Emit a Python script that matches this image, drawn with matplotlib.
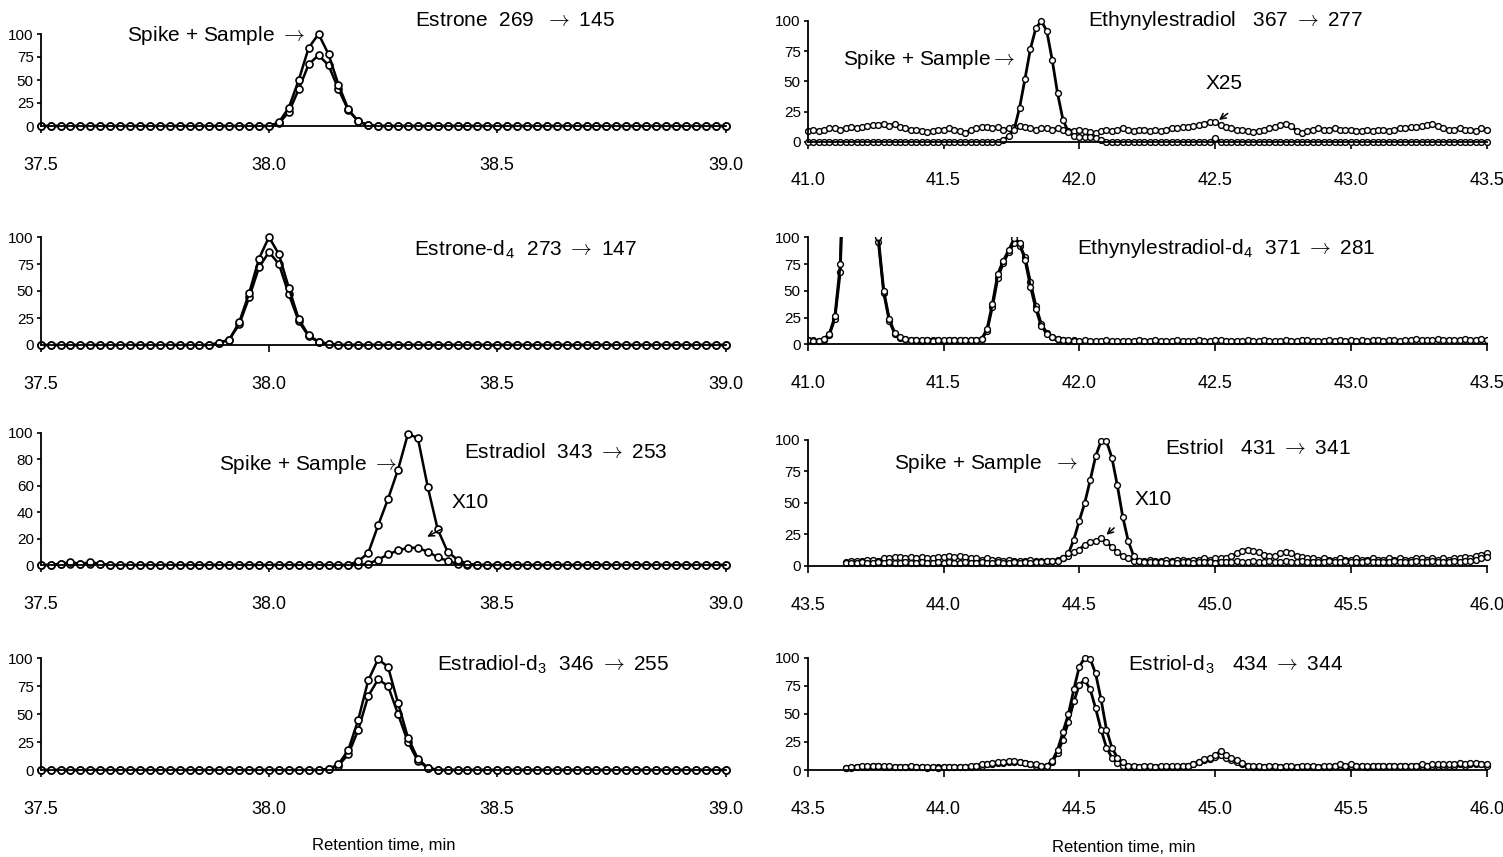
import numpy as np
import matplotlib.pyplot as plt

plt.rcParams['font.family'] = ['Liberation Sans', 'DejaVu Sans']
plt.rcParams['mathtext.fontset'] = 'cm'
NARROW = ['Liberation Sans Narrow', 'Liberation Sans', 'DejaVu Sans']
ARROW = r'$\rightarrow$'

# ---- left column: 37.5-39.0 min, one scan every ~1.3 s ----
t_left = np.linspace(37.5, 39.0, 70)

estrone_spike = [0, 0, 0, 0, 0, 0, 0, 0, 0, 0,
                 0, 0, 0, 0, 0, 0, 0, 0, 0, 0,
                 0, 0, 0, 0, 4, 20, 50, 85, 100, 78,
                 45, 18, 5, 1, 0, 0, 0, 0, 0, 0,
                 0, 0, 0, 0, 0, 0, 0, 0, 0, 0,
                 0, 0, 0, 0, 0, 0, 0, 0, 0, 0,
                 0, 0, 0, 0, 0, 0, 0, 0, 0, 0]
estrone_sample = [0, 0, 0, 0, 0, 0, 0, 0, 0, 0,
                  0, 0, 0, 0, 0, 0, 0, 0, 0, 0,
                  0, 0, 0, 0, 3, 15, 40, 67, 77, 66,
                  40, 17, 5, 1, 0, 0, 0, 0, 0, 0,
                  0, 0, 0, 0, 0, 0, 0, 0, 0, 0,
                  0, 0, 0, 0, 0, 0, 0, 0, 0, 0,
                  0, 0, 0, 0, 0, 0, 0, 0, 0, 0]

estrone_d4_a = [0, 0, 0, 0, 0, 0, 0, 0, 0, 0,
                0, 0, 0, 0, 0, 0, 0, 0, 2, 5,
                21, 48, 80, 100, 84, 53, 24, 9, 3, 1,
                0, 0, 0, 0, 0, 0, 0, 0, 0, 0,
                0, 0, 0, 0, 0, 0, 0, 0, 0, 0,
                0, 0, 0, 0, 0, 0, 0, 0, 0, 0,
                0, 0, 0, 0, 0, 0, 0, 0, 0, 0]
estrone_d4_b = [0, 0, 0, 0, 0, 0, 0, 0, 0, 0,
                0, 0, 0, 0, 0, 0, 0, 0, 2, 5,
                19, 44, 72, 86, 75, 47, 22, 8, 3, 1,
                0, 0, 0, 0, 0, 0, 0, 0, 0, 0,
                0, 0, 0, 0, 0, 0, 0, 0, 0, 0,
                0, 0, 0, 0, 0, 0, 0, 0, 0, 0,
                0, 0, 0, 0, 0, 0, 0, 0, 0, 0]

estradiol_spike = [0, 0, 1, 2, 1, 2, 1, 0, 0, 0,
                   0, 0, 0, 0, 0, 0, 0, 0, 0, 0,
                   0, 0, 0, 0, 0, 0, 0, 0, 0, 0,
                   0, 0, 3, 9, 30, 50, 72, 99, 96, 59,
                   27, 10, 4, 1, 0, 0, 0, 0, 0, 0,
                   0, 0, 0, 0, 0, 0, 0, 0, 0, 0,
                   0, 0, 0, 0, 0, 0, 0, 0, 0, 0]
estradiol_x10 = [0, 0, 1, 1, 1, 1, 1, 0, 0, 0,
                 0, 0, 0, 0, 0, 0, 0, 0, 0, 0,
                 0, 0, 0, 0, 0, 0, 0, 0, 0, 0,
                 0, 0, 0, 1, 4, 8, 11, 13, 13, 10,
                 6, 3, 1, 0, 0, 0, 0, 0, 0, 0,
                 0, 0, 0, 0, 0, 0, 0, 0, 0, 0,
                 0, 0, 0, 0, 0, 0, 0, 0, 0, 0]

estradiol_d3_a = [0, 0, 0, 0, 0, 0, 0, 0, 0, 0,
                  0, 0, 0, 0, 0, 0, 0, 0, 0, 0,
                  0, 0, 0, 0, 0, 0, 0, 0, 0, 1,
                  5, 18, 45, 80, 99, 92, 60, 29, 10, 2,
                  0, 0, 0, 0, 0, 0, 0, 0, 0, 0,
                  0, 0, 0, 0, 0, 0, 0, 0, 0, 0,
                  0, 0, 0, 0, 0, 0, 0, 0, 0, 0]
estradiol_d3_b = [0, 0, 0, 0, 0, 0, 0, 0, 0, 0,
                  0, 0, 0, 0, 0, 0, 0, 0, 0, 0,
                  0, 0, 0, 0, 0, 0, 0, 0, 0, 1,
                  4, 14, 36, 66, 81, 75, 50, 25, 8, 2,
                  0, 0, 0, 0, 0, 0, 0, 0, 0, 0,
                  0, 0, 0, 0, 0, 0, 0, 0, 0, 0,
                  0, 0, 0, 0, 0, 0, 0, 0, 0, 0]

# ---- right column, top two: 41.0-43.5 min, 0.02 min per scan ----
t_ee = np.linspace(41.0, 43.5, 126)

ee_x25 = [9, 10, 9, 10, 11, 11, 10, 11, 12, 11,
          12, 13, 14, 14, 15, 13, 15, 12, 11, 10,
          10, 9, 8, 9, 10, 10, 11, 10, 9, 7,
          10, 11, 12, 12, 11, 12, 10, 11, 12, 13,
          12, 11, 10, 11, 11, 10, 11, 10, 9, 9,
          10, 9, 8, 7, 9, 10, 9, 10, 11, 10,
          9, 10, 10, 9, 10, 9, 10, 11, 11, 12,
          12, 13, 14, 15, 16, 16, 14, 12, 11, 10,
          10, 9, 8, 9, 10, 11, 12, 14, 15, 13,
          9, 7, 9, 10, 11, 10, 10, 11, 10, 10,
          10, 9, 9, 10, 9, 10, 10, 9, 10, 11,
          11, 12, 12, 13, 14, 15, 13, 11, 10, 10,
          11, 10, 10, 9, 11, 10]
ee_spike = [0, 0, 0, 0, 0, 0, 0, 0, 0, 0,
            0, 0, 0, 0, 0, 0, 0, 0, 0, 0,
            0, 0, 0, 0, 0, 0, 0, 0, 0, 0,
            0, 0, 0, 0, 0, 0, 1, 5, 10, 28,
            52, 77, 94, 100, 92, 68, 40, 18, 8, 5,
            4, 4, 4, 3, 1, 0, 0, 0, 0, 0,
            0, 0, 0, 0, 0, 0, 0, 0, 0, 0,
            0, 0, 0, 0, 0, 3, 0, 0, 0, 0,
            0, 0, 0, 0, 0, 0, 0, 0, 0, 0,
            0, 0, 0, 0, 0, 0, 0, 0, 0, 0,
            0, 0, 0, 0, 0, 0, 0, 0, 0, 0,
            0, 0, 0, 0, 0, 0, 0, 0, 0, 0,
            0, 0, 0, 0, 0, 0]

ee_d4_a = [4, 3, 3, 5, 10, 26, 75, 250, 300, 300,
           300, 300, 250, 100, 50, 24, 11, 7, 5, 4,
           4, 4, 4, 3, 4, 4, 4, 4, 4, 4,
           4, 4, 5, 14, 38, 66, 78, 88, 99, 95,
           79, 54, 33, 17, 10, 7, 5, 4, 4, 3,
           3, 4, 3, 3, 3, 4, 3, 3, 3, 3,
           3, 4, 3, 3, 4, 3, 3, 3, 4, 3,
           3, 3, 4, 3, 3, 4, 4, 3, 3, 3,
           3, 4, 3, 3, 4, 3, 3, 3, 4, 3,
           3, 4, 4, 3, 3, 3, 4, 3, 4, 3,
           4, 3, 4, 3, 4, 4, 3, 4, 4, 3,
           4, 4, 5, 4, 4, 4, 5, 4, 4, 4,
           4, 5, 4, 4, 5, 4]
ee_d4_b = [4, 4, 3, 4, 9, 24, 68, 240, 300, 300,
           300, 290, 230, 96, 48, 22, 10, 6, 5, 4,
           4, 3, 4, 4, 4, 3, 4, 4, 4, 4,
           4, 4, 5, 12, 35, 62, 76, 86, 95, 92,
           82, 58, 36, 19, 11, 7, 5, 4, 3, 4]

# ---- right column, bottom two: 43.64-46.0 min ----
t_e3 = np.linspace(43.64, 46.0, 119)

estriol_spike = [2, 2, 2, 3, 2, 2, 3, 2, 3, 2,
                 2, 3, 2, 2, 3, 2, 2, 3, 2, 3,
                 2, 2, 3, 2, 2, 3, 2, 2, 3, 2,
                 2, 3, 2, 3, 2, 3, 3, 4, 4, 4,
                 6, 10, 21, 36, 50, 68, 87, 99, 99, 86,
                 64, 39, 20, 8, 4, 3, 3, 3, 3, 2,
                 3, 2, 3, 3, 2, 3, 3, 3, 2, 3,
                 3, 3, 4, 3, 3, 4, 3, 3, 4, 3,
                 3, 4, 3, 3, 4, 3, 3, 3, 3, 4,
                 3, 3, 4, 3, 3, 3, 4, 3, 3, 3,
                 3, 4, 3, 3, 3, 4, 3, 3, 4, 3,
                 3, 3, 4, 3, 4, 4, 5, 6, 7]
estriol_x10 = [3, 4, 4, 4, 5, 5, 4, 6, 6, 7,
               7, 6, 7, 6, 7, 6, 6, 7, 7, 8,
               7, 8, 7, 6, 6, 5, 6, 5, 5, 4,
               5, 4, 4, 4, 5, 4, 4, 4, 4, 5,
               6, 8, 11, 13, 17, 19, 20, 22, 19, 15,
               11, 8, 6, 4, 4, 4, 5, 4, 4, 5,
               4, 5, 5, 4, 5, 5, 6, 5, 6, 6,
               6, 8, 10, 12, 13, 12, 11, 9, 8, 8,
               10, 11, 10, 8, 7, 6, 6, 5, 6, 5,
               5, 6, 5, 5, 6, 5, 5, 6, 5, 5,
               6, 5, 6, 5, 5, 6, 6, 5, 6, 5,
               6, 5, 6, 6, 7, 6, 8, 9, 10]

estriol_d3_a = [2, 3, 3, 4, 4, 4, 4, 4, 4, 3,
                3, 3, 4, 3, 3, 3, 3, 2, 3, 3,
                3, 3, 3, 4, 4, 5, 5, 6, 7, 7,
                8, 8, 7, 6, 5, 5, 4, 4, 8, 18,
                34, 50, 72, 92, 100, 99, 86, 63, 36, 20,
                11, 7, 4, 4, 3, 4, 4, 3, 4, 4,
                4, 4, 4, 4, 5, 7, 10, 11, 13, 17,
                13, 11, 9, 6, 4, 4, 4, 3, 4, 4,
                3, 4, 4, 3, 4, 4, 4, 3, 4, 4,
                4, 5, 4, 5, 4, 4, 4, 4, 4, 4,
                4, 4, 4, 4, 4, 4, 5, 4, 5, 5,
                5, 5, 5, 6, 5, 6, 6, 5, 5]
estriol_d3_b = [2, 2, 3, 3, 3, 4, 4, 3, 3, 3,
                3, 3, 3, 3, 3, 2, 3, 3, 3, 3,
                3, 3, 3, 3, 4, 4, 5, 5, 6, 6,
                7, 7, 7, 6, 5, 4, 4, 4, 7, 15,
                27, 43, 61, 76, 80, 72, 55, 36, 20, 11,
                6, 4, 3, 3, 3, 3, 3, 3, 3, 3,
                3, 3, 4, 4, 5, 7, 9, 10, 12, 13,
                11, 9, 7, 5, 4, 3, 3, 3, 3, 3,
                3, 3, 3, 3, 3, 3, 3, 3, 3, 3,
                4, 4, 3, 4, 4, 4, 3, 4, 4, 4,
                4, 4, 4, 4, 4, 4, 4, 4, 4, 4,
                4, 4, 4, 5, 4, 5, 5, 5, 4]

x_left = [37.5, 38.0, 38.5, 39.0]
x_ee = [41.0, 41.5, 42.0, 42.5, 43.0, 43.5]
x_e3 = [43.5, 44.0, 44.5, 45.0, 45.5, 46.0]
y_quarter = [0, 25, 50, 75, 100]
y_twenty = [0, 20, 40, 60, 80, 100]

W, H = 1503, 857
fig = plt.figure(figsize=(W / 100, H / 100), dpi=100)


def panel(px0, px1, py0, py100, xlim, xt, yt, top=104):
    # place the axes so that data 0/100 land on the given pixel rows
    lo = -4
    k = (py0 - py100) / 100.0
    ybot = py0 - lo * k
    ytop = py0 - top * k
    ax = fig.add_axes([px0 / W, 1 - ybot / H, (px1 - px0) / W, (ybot - ytop) / H])
    ax.set_xlim(xlim)
    ax.set_ylim(lo, top)
    for s in ['top', 'right']:
        ax.spines[s].set_visible(False)
    ax.spines['bottom'].set_position(('data', 0))
    ax.spines['left'].set_bounds(0, 100)
    for s in ['bottom', 'left']:
        ax.spines[s].set_linewidth(1.3)
    ax.set_xticks(xt, ['%.1f' % v for v in xt], fontsize=13, family=NARROW)
    ax.set_yticks(yt, [str(v) for v in yt], fontsize=11, family=NARROW)
    ax.tick_params(axis='x', direction='out', length=5, width=1.2, pad=17)
    ax.tick_params(axis='y', direction='out', length=3, width=1.2, pad=2)
    ax.patch.set_visible(False)
    return ax


def trace(ax, t, y, dense=False, clip=False):
    if dense:
        ax.plot(t, y, color='k', lw=2.0, marker='o', ms=4.2, mfc='white',
                mec='k', mew=1.0, clip_on=clip)
    else:
        ax.plot(t, y, color='k', lw=1.8, marker='o', ms=5, mfc='white',
                mec='k', mew=1.2, clip_on=clip)


def label(ax, x, y, s, ha='left'):
    ax.text(x, y, s, ha=ha, va='center', fontsize=15)


def pointer(ax, xy, xytext):
    ax.annotate('', xy=xy, xytext=xytext,
                arrowprops=dict(arrowstyle='->', color='k', lw=1.1))


LX0, LX1 = 40.7, 725.5
RX0, RX1 = 807.7, 1486.7

# Estrone
ax = panel(LX0, LX1, 126, 34, (37.5, 39.0), x_left, y_quarter)
trace(ax, t_left, estrone_sample)
trace(ax, t_left, estrone_spike)
label(ax, 38.078, 98, 'Spike + Sample ' + ARROW, ha='right')
label(ax, 38.319, 115, 'Estrone  269  ' + ARROW + ' 145')

# Estrone-d4
ax = panel(LX0, LX1, 345, 237, (37.5, 39.0), x_left, y_quarter)
trace(ax, t_left, estrone_d4_b)
trace(ax, t_left, estrone_d4_a)
label(ax, 38.317, 88, r'Estrone-d$_\mathregular{4}$  273 ' + ARROW + ' 147')

# Estradiol
ax = panel(LX0, LX1, 565, 432.7, (37.5, 39.0), x_left, y_twenty)
trace(ax, t_left, estradiol_x10)
trace(ax, t_left, estradiol_spike)
label(ax, 38.28, 75.6, 'Spike + Sample ' + ARROW, ha='right')
label(ax, 38.428, 85.4, 'Estradiol  343 ' + ARROW + ' 253')
label(ax, 38.40, 47.6, 'X10')
pointer(ax, (38.341, 20.4), (38.381, 27.7))

# Estradiol-d3
ax = panel(LX0, LX1, 770, 658, (37.5, 39.0), x_left, y_quarter)
trace(ax, t_left, estradiol_d3_b)
trace(ax, t_left, estradiol_d3_a)
label(ax, 38.367, 93.75, r'Estradiol-d$_\mathregular{3}$  346 ' + ARROW + ' 255')

# Ethynylestradiol
ax = panel(RX0, RX1, 141.7, 21, (41.0, 43.5), x_ee, y_quarter)
trace(ax, t_ee, ee_x25, dense=True)
trace(ax, t_ee, ee_spike, dense=True)
label(ax, 42.032, 100.8, 'Ethynylestradiol   367 ' + ARROW + ' 277')
label(ax, 41.763, 67.7, 'Spike + Sample' + ARROW, ha='right')
label(ax, 42.463, 48.6, 'X25')
pointer(ax, (42.506, 16.6), (42.555, 24.8))

# Ethynylestradiol-d4 (first peaks run off scale)
ax = panel(RX0, RX1, 344.3, 237.3, (41.0, 43.5), x_ee, y_quarter, top=100.5)
trace(ax, t_ee[:len(ee_d4_b)], ee_d4_b, dense=True, clip=True)
trace(ax, t_ee, ee_d4_a, dense=True, clip=True)
label(ax, 41.992, 90, r'Ethynylestradiol-d$_\mathregular{4}$  371 ' + ARROW + ' 281')

# Estriol
ax = panel(RX0, RX1, 566, 440, (43.5, 46.0), x_e3, y_quarter)
trace(ax, t_e3, estriol_x10, dense=True)
trace(ax, t_e3, estriol_spike, dense=True)
label(ax, 44.495, 81.7, 'Spike + Sample  ' + ARROW, ha='right')
label(ax, 44.815, 92.9, 'Estriol   431 ' + ARROW + ' 341')
label(ax, 44.705, 52.4, 'X10')
pointer(ax, (44.592, 23.3), (44.636, 31.7))

# Estriol-d3
ax = panel(RX0, RX1, 770, 657.7, (43.5, 46.0), x_e3, y_quarter)
trace(ax, t_e3, estriol_d3_b, dense=True)
trace(ax, t_e3, estriol_d3_a, dense=True)
label(ax, 44.679, 93.5, r'Estriol-d$_\mathregular{3}$   434 ' + ARROW + ' 344')

fig.text(384 / W, 1 - 845 / H, 'Retention time, min', ha='center', va='center', fontsize=12)
fig.text(1124 / W, 1 - 847 / H, 'Retention time, min', ha='center', va='center', fontsize=12)

fig.savefig('out.png', dpi=100)
